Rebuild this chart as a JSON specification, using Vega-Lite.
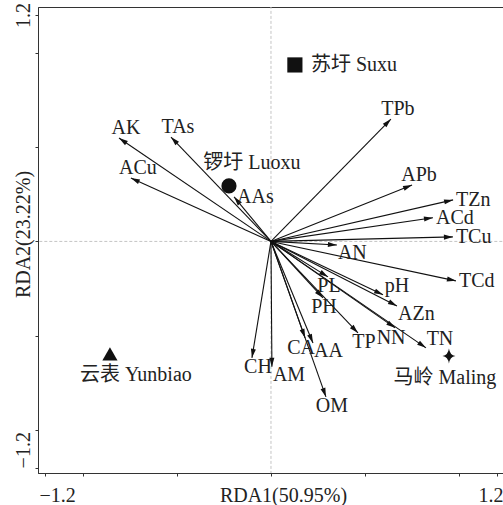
{
  "$schema": "https://vega.github.io/schema/vega-lite/v6.json",
  "width": 465,
  "height": 466,
  "autosize": {"type": "none"},
  "padding": {"left": 38, "top": 7, "right": 0, "bottom": 32},
  "background": "white",
  "config": {
    "font": "Liberation Serif, Noto Sans CJK SC",
    "view": {"stroke": "#333", "strokeWidth": 1},
    "text": {"font": "Liberation Serif, Noto Sans CJK SC", "fontSize": 20, "color": "#222"}
  },
  "datasets": {
    "vars": [
      {"var": "AK", "x": -0.807, "y": 0.548},
      {"var": "TAs", "x": -0.531, "y": 0.553},
      {"var": "ACu", "x": -0.744, "y": 0.336},
      {"var": "AAs", "x": -0.196, "y": 0.236},
      {"var": "TPb", "x": 0.637, "y": 0.648},
      {"var": "APb", "x": 0.749, "y": 0.299},
      {"var": "TZn", "x": 0.967, "y": 0.220},
      {"var": "ACd", "x": 0.860, "y": 0.125},
      {"var": "TCu", "x": 0.966, "y": 0.024},
      {"var": "AN", "x": 0.350, "y": -0.019},
      {"var": "TCd", "x": 0.982, "y": -0.209},
      {"var": "pH", "x": 0.595, "y": -0.283},
      {"var": "PL", "x": 0.303, "y": -0.188},
      {"var": "AZn", "x": 0.669, "y": -0.342},
      {"var": "PH", "x": 0.276, "y": -0.299},
      {"var": "TP", "x": 0.462, "y": -0.485},
      {"var": "NN", "x": 0.659, "y": -0.458},
      {"var": "TN", "x": 0.823, "y": -0.564},
      {"var": "CA", "x": 0.181, "y": -0.511},
      {"var": "AA", "x": 0.223, "y": -0.538},
      {"var": "AM", "x": 0.005, "y": -0.664},
      {"var": "CH", "x": -0.101, "y": -0.617},
      {"var": "OM", "x": 0.292, "y": -0.824}
    ],
    "sites": [
      {"site": "Suxu", "label": "苏圩 Suxu", "x": 0.127, "y": 0.935},
      {"site": "Luoxu", "label": "锣圩 Luoxu", "x": -0.223, "y": 0.294},
      {"site": "Yunbiao", "label": "云表 Yunbiao", "x": -0.855, "y": -0.596},
      {"site": "Maling", "label": "马岭 Maling", "x": 0.945, "y": -0.607}
    ],
    "zero": [{"lo": -2, "hi": 2, "z": 0}]
  },
  "encoding": {
    "x": {
      "field": "x", "type": "quantitative",
      "scale": {"domain": [-1.237, 1.232], "nice": false, "zero": false},
      "axis": {
        "title": "RDA1(50.95%)",
        "values": [-1.2, -1, -0.5, 0, 0.5, 1, 1.2],
        "labelExpr": "datum.value == 1.2 ? '1.2' : (datum.value == -1.2 ? '\u22121.2' : '')",
        "grid": false,
        "domainColor": "#333",
        "tickColor": "#333",
        "tickSize": 3,
        "labelFontSize": 20,
        "labelColor": "#222",
        "labelBaseline": "alphabetic",
        "labelPadding": 25,
        "labelOverlap": false,
        "labelFlush": 10,
        "labelFlushOffset": 6,
        "titleFontSize": 20,
        "titleFontWeight": "normal",
        "titleColor": "#222",
        "titleBaseline": "alphabetic",
        "titleAlign": "center",
        "titleX": 245,
        "titleY": 28
      }
    },
    "y": {
      "field": "y", "type": "quantitative",
      "scale": {"domain": [-1.227, 1.242], "nice": false, "zero": false},
      "axis": {
        "title": "RDA2(23.22%)",
        "values": [-1.2, -1, -0.5, 0, 0.5, 1, 1.2],
        "labelExpr": "datum.value == 1.2 ? '1.2' : (datum.value == -1.2 ? '\u22121.2' : '')",
        "grid": false,
        "domainColor": "#333",
        "tickColor": "#333",
        "tickSize": 3,
        "labelFontSize": 20,
        "labelColor": "#222",
        "labelAngle": 270,
        "labelAlign": {"condition": {"test": "datum.value < 0", "value": "left"}, "value": "center"},
        "labelBaseline": "middle",
        "labelPadding": 12,
        "labelOverlap": false,
        "titleFontSize": 20,
        "titleFontWeight": "normal",
        "titleColor": "#222",
        "titleAngle": 270,
        "titleBaseline": "middle",
        "titleAlign": "center",
        "titleX": -15,
        "titleY": 227
      }
    }
  },
  "layer": [
    {
      "data": {"name": "zero"},
      "mark": {"type": "rule", "color": "#c4c4c4", "strokeDash": [3, 2], "strokeWidth": 1, "clip": true},
      "encoding": {
        "x": {"field": "z", "type": "quantitative"},
        "y": {"field": "lo", "type": "quantitative"},
        "y2": {"field": "hi"}
      }
    },
    {
      "data": {"name": "zero"},
      "mark": {"type": "rule", "color": "#c4c4c4", "strokeDash": [3, 2], "strokeWidth": 1, "clip": true},
      "encoding": {
        "y": {"field": "z", "type": "quantitative"},
        "x": {"field": "lo", "type": "quantitative"},
        "x2": {"field": "hi"}
      }
    },
    {
      "data": {"name": "vars"},
      "mark": {"type": "rule", "color": "#111", "strokeWidth": 1.1},
      "encoding": {
        "x2": {"datum": 0},
        "y2": {"datum": 0}
      }
    },
    {
      "data": {"name": "vars"},
      "transform": [{"calculate": "atan2(datum.x, datum.y) * 180 / PI", "as": "ang"}],
      "mark": {"type": "point", "filled": true, "color": "#111", "opacity": 1, "size": 324, "shape": "M0,0 L-0.28,1 L0.28,1 Z"},
      "encoding": {
        "angle": {"field": "ang", "type": "quantitative", "scale": null}
      }
    },
    {
      "data": {"name": "vars"},
      "transform": [{"filter": {"field": "var", "oneOf": ["AK", "TAs", "ACu", "TPb", "APb"]}}],
      "mark": {"type": "text", "align": "center", "baseline": "middle", "dx": 7, "dy": -10},
      "encoding": {"text": {"field": "var"}}
    },
    {
      "data": {"name": "vars"},
      "transform": [{"filter": {"field": "var", "oneOf": ["pH", "TN"]}}],
      "mark": {"type": "text", "align": "center", "baseline": "middle", "dx": 14, "dy": -9},
      "encoding": {"text": {"field": "var"}}
    },
    {
      "data": {"name": "vars"},
      "transform": [{"filter": {"field": "var", "oneOf": ["AAs", "TZn", "ACd", "TCu", "TCd"]}}],
      "mark": {"type": "text", "align": "left", "baseline": "middle", "dx": 3, "dy": 0},
      "encoding": {"text": {"field": "var"}}
    },
    {
      "data": {"name": "vars"},
      "transform": [{"filter": {"field": "var", "oneOf": ["AN", "AZn", "AA", "AM"]}}],
      "mark": {"type": "text", "align": "left", "baseline": "middle", "dx": 1, "dy": 8},
      "encoding": {"text": {"field": "var"}}
    },
    {
      "data": {"name": "vars"},
      "transform": [{"filter": {"field": "var", "oneOf": ["PL", "PH"]}}],
      "mark": {"type": "text", "align": "center", "baseline": "middle", "dx": 1, "dy": 9},
      "encoding": {"text": {"field": "var"}}
    },
    {
      "data": {"name": "vars"},
      "transform": [{"filter": {"field": "var", "oneOf": ["NN", "CA"]}}],
      "mark": {"type": "text", "align": "center", "baseline": "middle", "dx": -4, "dy": 10},
      "encoding": {"text": {"field": "var"}}
    },
    {
      "data": {"name": "vars"},
      "transform": [{"filter": {"field": "var", "oneOf": ["TP", "CH", "OM"]}}],
      "mark": {"type": "text", "align": "center", "baseline": "middle", "dx": 6, "dy": 9},
      "encoding": {"text": {"field": "var"}}
    },
    {
      "data": {"name": "sites"},
      "mark": {"type": "point", "filled": true, "color": "#111", "opacity": 1, "size": 230},
      "encoding": {
        "shape": {
          "field": "site", "type": "nominal", "legend": null,
          "scale": {
            "domain": ["Suxu", "Luoxu", "Yunbiao", "Maling"],
            "range": ["square", "circle", "triangle-up", "M0,-1 Q0.12,-0.12 0.85,0 Q0.12,0.12 0,1 Q-0.12,0.12 -0.85,0 Q-0.12,-0.12 0,-1 Z"]
          }
        }
      }
    },
    {
      "data": {"name": "sites"},
      "transform": [{"filter": {"field": "site", "equal": "Suxu"}}],
      "mark": {"type": "text", "align": "left", "baseline": "middle", "dx": 16, "dy": 0},
      "encoding": {"text": {"field": "label"}}
    },
    {
      "data": {"name": "sites"},
      "transform": [{"filter": {"field": "site", "equal": "Luoxu"}}],
      "mark": {"type": "text", "align": "center", "baseline": "middle", "dx": 23, "dy": -23},
      "encoding": {"text": {"field": "label"}}
    },
    {
      "data": {"name": "sites"},
      "transform": [{"filter": {"field": "site", "equal": "Yunbiao"}}],
      "mark": {"type": "text", "align": "center", "baseline": "middle", "dx": 26, "dy": 21},
      "encoding": {"text": {"field": "label"}}
    },
    {
      "data": {"name": "sites"},
      "transform": [{"filter": {"field": "site", "equal": "Maling"}}],
      "mark": {"type": "text", "align": "center", "baseline": "middle", "dx": -4, "dy": 22},
      "encoding": {"text": {"field": "label"}}
    }
  ]
}
